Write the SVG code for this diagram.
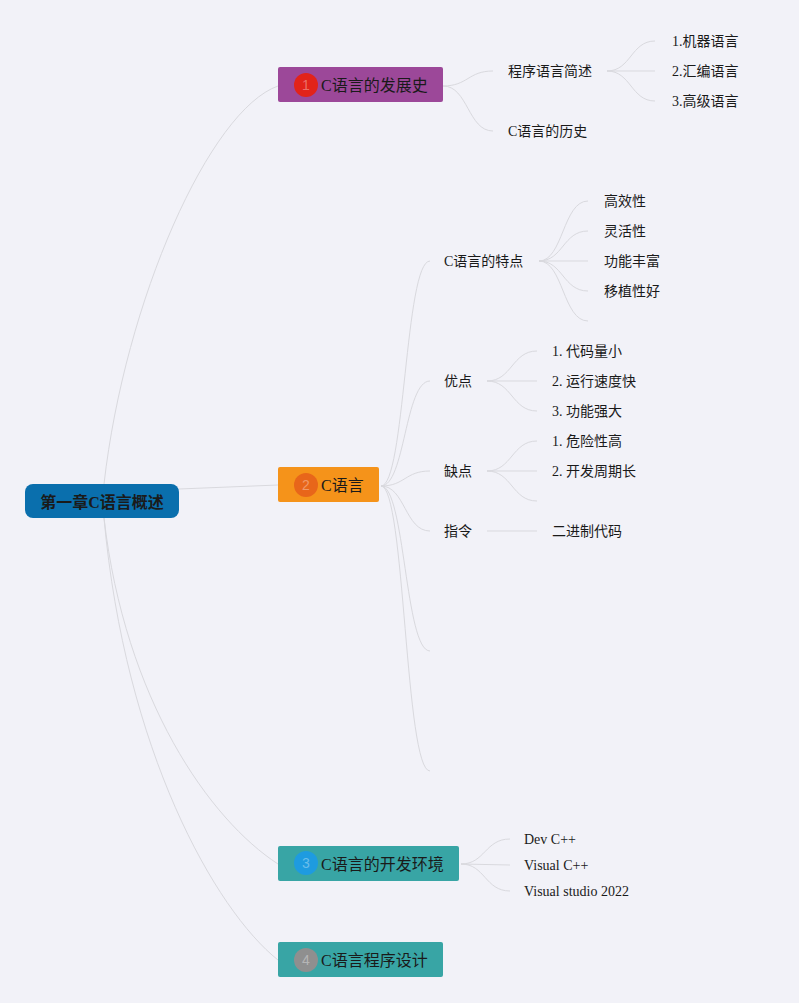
<svg xmlns="http://www.w3.org/2000/svg" width="799" height="1003" viewBox="0 0 799 1003">
<style>
.t{font-family:'Liberation Serif','Noto Sans CJK SC',serif;fill:#1a1a1a}
.n{font-size:16px}
.c{font-size:14px}
.b{font-size:14px;fill:#ffffff;fill-opacity:0.35;text-anchor:middle;font-family:'Liberation Sans','Noto Sans CJK SC',sans-serif}
.ln{fill:none;stroke:#d9d9de;stroke-width:1}
</style>
<rect width="799" height="1003" fill="#f2f2f8"/>
<g id="connectors">
<path class="ln" d="M104,484 C125,300 210,110 278,86"/>
<path class="ln" d="M179,489 L278,485"/>
<path class="ln" d="M104,518 C125,700 210,820 278,864"/>
<path class="ln" d="M104,518 C125,750 215,910 278,960"/>
<path class="ln" d="M443,86 C468,86 468,71 493,71"/>
<path class="ln" d="M443,86 C468,86 468,131 493,131"/>
<path class="ln" d="M607,71 C631,71 631,41 655,41"/>
<path class="ln" d="M607,71 L655,71"/>
<path class="ln" d="M607,71 C631,71 631,101 655,101"/>
<path class="ln" d="M381,486 C405,486 405,261 430,261"/>
<path class="ln" d="M381,486 C405,486 405,381 430,381"/>
<path class="ln" d="M381,486 C405,486 405,471 430,471"/>
<path class="ln" d="M381,486 C405,486 405,531 430,531"/>
<path class="ln" d="M381,486 C405,486 405,651 430,651"/>
<path class="ln" d="M381,486 C405,486 405,771 430,771"/>
<path class="ln" d="M539,261 C563,261 563,201 588,201"/>
<path class="ln" d="M539,261 C563,261 563,231 588,231"/>
<path class="ln" d="M539,261 L588,261"/>
<path class="ln" d="M539,261 C563,261 563,291 588,291"/>
<path class="ln" d="M539,261 C563,261 563,321 588,321"/>
<path class="ln" d="M487,381 C512,381 512,351 537,351"/>
<path class="ln" d="M487,381 L537,381"/>
<path class="ln" d="M487,381 C512,381 512,411 537,411"/>
<path class="ln" d="M487,471 C512,471 512,441 537,441"/>
<path class="ln" d="M487,471 L537,471"/>
<path class="ln" d="M487,471 C512,471 512,501 537,501"/>
<path class="ln" d="M487,531 L537,531"/>
<path class="ln" d="M461,864 C485,864 485,839 510,839"/>
<path class="ln" d="M461,864 L510,865"/>
<path class="ln" d="M461,864 C485,864 485,891 510,891"/>
</g>
<g id="root">
<rect x="25" y="484" width="154" height="34" rx="8" fill="#0a6fad"/>
<text class="t n" x="102" y="508" text-anchor="middle" font-weight="bold" fill="#000">第一章C语言概述</text>
</g>
<g id="n1">
<rect x="278" y="67" width="165" height="35" rx="2" fill="#9c4899"/>
<circle cx="306" cy="85" r="12" fill="#e2231a"/>
<text class="b" x="306" y="90">1</text>
<text class="t n" x="321" y="91">C语言的发展史</text>
</g>
<g id="n2">
<rect x="278" y="467" width="101" height="35" rx="2" fill="#f5931a"/>
<circle cx="306" cy="485" r="12" fill="#e8661a"/>
<text class="b" x="306" y="490">2</text>
<text class="t n" x="321" y="491">C语言</text>
</g>
<g id="n3">
<rect x="278" y="846" width="181" height="35" rx="2" fill="#38a5a5"/>
<circle cx="306" cy="863" r="12" fill="#1e9be0"/>
<text class="b" x="306" y="868">3</text>
<text class="t n" x="321" y="870">C语言的开发环境</text>
</g>
<g id="n4">
<rect x="278" y="942" width="165" height="35" rx="2" fill="#38a5a5"/>
<circle cx="306" cy="960" r="12" fill="#8f8f8f"/>
<text class="b" x="306" y="965">4</text>
<text class="t n" x="321" y="966">C语言程序设计</text>
</g>
<g id="n1a"><text class="t c" x="508" y="76">程序语言简述</text></g>
<g id="n1a1"><text class="t c" x="672" y="46">1.机器语言</text></g>
<g id="n1a2"><text class="t c" x="672" y="76">2.汇编语言</text></g>
<g id="n1a3"><text class="t c" x="672" y="106">3.高级语言</text></g>
<g id="n1b"><text class="t c" x="508" y="136">C语言的历史</text></g>
<g id="n2a"><text class="t c" x="444" y="266">C语言的特点</text></g>
<g id="n2a1"><text class="t c" x="604" y="206">高效性</text></g>
<g id="n2a2"><text class="t c" x="604" y="236">灵活性</text></g>
<g id="n2a3"><text class="t c" x="604" y="266">功能丰富</text></g>
<g id="n2a4"><text class="t c" x="604" y="296">移植性好</text></g>
<g id="n2b"><text class="t c" x="444" y="386">优点</text></g>
<g id="n2b1"><text class="t c" x="552" y="356">1. 代码量小</text></g>
<g id="n2b2"><text class="t c" x="552" y="386">2. 运行速度快</text></g>
<g id="n2b3"><text class="t c" x="552" y="416">3. 功能强大</text></g>
<g id="n2c"><text class="t c" x="444" y="476">缺点</text></g>
<g id="n2c1"><text class="t c" x="552" y="446">1. 危险性高</text></g>
<g id="n2c2"><text class="t c" x="552" y="476">2. 开发周期长</text></g>
<g id="n2d"><text class="t c" x="444" y="536">指令</text></g>
<g id="n2d1"><text class="t c" x="552" y="536">二进制代码</text></g>
<g id="n3a"><text class="t c" x="524" y="844">Dev C++</text></g>
<g id="n3b"><text class="t c" x="524" y="870">Visual C++</text></g>
<g id="n3c"><text class="t c" x="524" y="896">Visual studio 2022</text></g>
</svg>
